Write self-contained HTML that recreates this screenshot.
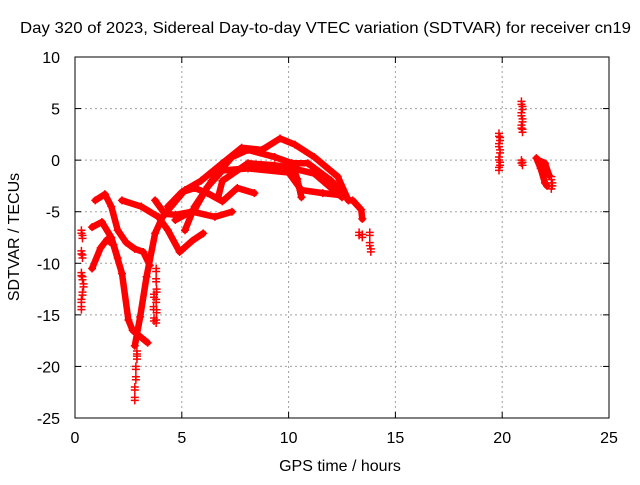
<!DOCTYPE html>
<html><head><meta charset="utf-8"><style>
body{margin:0;background:#fff}
svg text{font-family:"Liberation Sans",sans-serif;font-size:16px;fill:#000}
</style></head><body>
<svg id="chart" width="640" height="480" viewBox="0 0 640 480">
<text x="20" y="33" textLength="611" lengthAdjust="spacingAndGlyphs">Day 320 of 2023, Sidereal Day-to-day VTEC variation (SDTVAR) for receiver cn19</text>
<text x="340" y="471" text-anchor="middle">GPS time / hours</text>
<text transform="translate(19,237) rotate(-90)" text-anchor="middle">SDTVAR / TECUs</text>
<g id="grid"></g><g id="axes"></g><g id="marks"></g>
</svg>
<script>
const xTicks=[0,5,10,15,20,25];
const yTicks=[10,5,0,-5,-10,-15,-20,-25];
const track1=[[0.95,-3.9],[1.4,-3.3],[1.7,-4.5],[2.0,-6.8],[2.4,-8.0],[2.8,-8.6],[3.2,-8.9],[3.5,-10.2]];
const track2=[[0.8,-10.5],[1.2,-8.5],[1.5,-7.7],[1.8,-8.2],[2.2,-11],[2.5,-15.5],[2.7,-16.5],[3.4,-17.7]];
const track2b=[[0.8,-6.5],[1.26,-6.0],[1.7,-7.5],[2.0,-9.5]];
const track3=[[2.8,-18],[3.05,-15.2],[3.35,-11.3],[3.75,-7.1],[4.1,-5.5],[4.5,-4.5],[5.15,-2.9],[5.9,-2.0],[6.9,-0.3],[7.8,1.2],[8.75,1.0],[9.6,2.1],[10.3,1.5],[11.2,0.3],[12.3,-1.6],[12.8,-3.9]];
const track4=[[2.2,-3.9],[3.1,-4.5],[3.9,-5.5],[4.35,-6.8],[4.9,-8.9],[5.5,-7.8],[6.0,-7.1]];
const track5=[[3.75,-3.9],[4.2,-5.2],[4.7,-5.3],[5.5,-5.0],[6.55,-5.5],[7.35,-5.0]];
const track6=[[4.35,-4.5],[5.0,-3.1],[5.6,-2.7],[6.2,-3.2],[6.9,-4.0],[7.6,-2.7],[8.4,-3.2]];
const track7=[[4.7,-5.8],[5.6,-4.8],[6.2,-2.6],[6.9,-1.0],[8.1,-0.8],[10.0,-1.2],[10.6,-2.9],[11.6,-3.2],[12.5,-3.4]];
const track8=[[5.15,-6.8],[5.6,-4.5],[6.4,-2.0],[7.35,0.3],[8.1,1.0],[9.35,0.3],[10.15,-0.3],[10.9,-0.3],[12.0,-2.0],[12.7,-3.6]];
const track8b=[[10.15,-0.3],[10.4,-1.8],[10.6,-3.6]];
const track9=[[6.7,-3.6],[6.9,-2.0],[8.1,-0.3],[9.35,-0.5],[10.0,-0.7],[11.2,-1.3],[12.5,-3.6]];
const track10=[[12.8,-3.9],[13.0,-3.9],[13.4,-4.8],[13.45,-5.7]];
const track11=[[21.6,0.2],[21.8,-0.8],[22.0,-2.2],[22.1,-2.5]];
const track12=[[21.7,0.0],[22.0,-0.3],[22.2,-1.5]];
const scatter=[[2.8,-23],[2.8,-22],[2.85,-21],[2.85,-20],[2.9,-19],[2.9,-18.5],
[3.8,-10.5],[3.8,-11.5],[3.82,-12.5],[3.8,-13.5],[3.82,-14.5],[3.8,-15.5],[3.7,-13],[3.68,-14.2],[3.7,-15.3],
[0.3,-6.8],[0.35,-7.3],[0.3,-8.8],[0.35,-9.2],[0.3,-10.9],[0.35,-11.3],[0.4,-12],[0.35,-12.8],[0.3,-13.5],[0.3,-14.2],
[13.3,-7.0],[13.45,-7.2],[13.8,-7.0],[13.8,-8.0],[13.85,-8.6],
[19.85,2.6],[19.9,2.2],[19.85,1.6],[19.9,1.0],[19.85,0.3],[19.9,-0.2],[19.85,-0.7],
[20.9,5.7],[20.95,5.2],[20.9,4.6],[20.95,4.0],[20.9,3.4],[20.95,3.0],[20.9,0.0],[20.95,-0.2],
[22.3,-1.6],[22.35,-2.2],[22.3,-2.5]];
const lineTracks=[track1,track2,track2b,track3,track4,track5,track6,track7,track8,track8b,track9,track10,track11,track12];

const X0=75,X1=609,Y0=418,Y1=57;
const sx=v=>X0+(v-0)/(25-0)*(X1-X0);
const sy=v=>Y0-(v+25)/(35)*(Y0-Y1);
const NS='http://www.w3.org/2000/svg';
const grid=document.getElementById('grid'),axes=document.getElementById('axes'),marks=document.getElementById('marks');
function mk(tag,attrs,parent){const e=document.createElementNS(NS,tag);for(const k in attrs)e.setAttribute(k,attrs[k]);parent.appendChild(e);return e;}
xTicks.forEach(t=>{const x=sx(t);
 if(t>0&&t<25){const g=mk('line',{x1:x,y1:Y0,x2:x,y2:Y1,stroke:'#a0a0a0','stroke-dasharray':'2,3'},grid);
 
 }
 mk('line',{x1:x,y1:Y0,x2:x,y2:Y0-6,stroke:'#000'},axes);mk('line',{x1:x,y1:Y1,x2:x,y2:Y1+6,stroke:'#000'},axes);
 const tx=mk('text',{x:x,y:Y0+25,'text-anchor':'middle'},axes);tx.textContent=t;
 
 
});
yTicks.forEach(t=>{const y=sy(t);
 if(t>-25&&t<10){const g=mk('line',{x1:X0,y1:y,x2:X1,y2:y,stroke:'#a0a0a0','stroke-dasharray':'2,3'},grid);
 
 }
 mk('line',{x1:X0,y1:y,x2:X0+6,y2:y,stroke:'#000'},axes);mk('line',{x1:X1,y1:y,x2:X1-6,y2:y,stroke:'#000'},axes);
 const tx=mk('text',{x:X0-15,y:y+6,'text-anchor':'end'},axes);tx.textContent=t;
 
 
});
const frame=mk('rect',{x:X0,y:Y1,width:X1-X0,height:Y0-Y1,fill:'none',stroke:'#000'},axes);


lineTracks.forEach(tr=>{
 const p=mk('polyline',{points:tr.map(d=>sx(d[0])+','+sy(d[1])).join(' '),fill:'none',stroke:'#ff0000','stroke-width':6.5,'stroke-linejoin':'round','stroke-linecap':'round'},marks);
 
 
 tr.forEach(d=>{const x=sx(d[0]),y=sy(d[1]);
  const m=mk('path',{d:`M${x-4},${y}H${x+4}M${x},${y-4}V${y+4}`,stroke:'#ff0000','stroke-width':1.5},marks);
  
  });
});
scatter.forEach(d=>{const x=sx(d[0]),y=sy(d[1]);
 const m=mk('path',{d:`M${x-4},${y}H${x+4}M${x},${y-4}V${y+4}`,stroke:'#ff0000','stroke-width':1.5},marks);
 
 
 const m2=mk('path',{d:`M${x-4},${y+3}H${x+4}M${x},${y-1}V${y+7}`,stroke:'#ff0000','stroke-width':1.5},marks);
 
 
});
</script>
</body></html>
